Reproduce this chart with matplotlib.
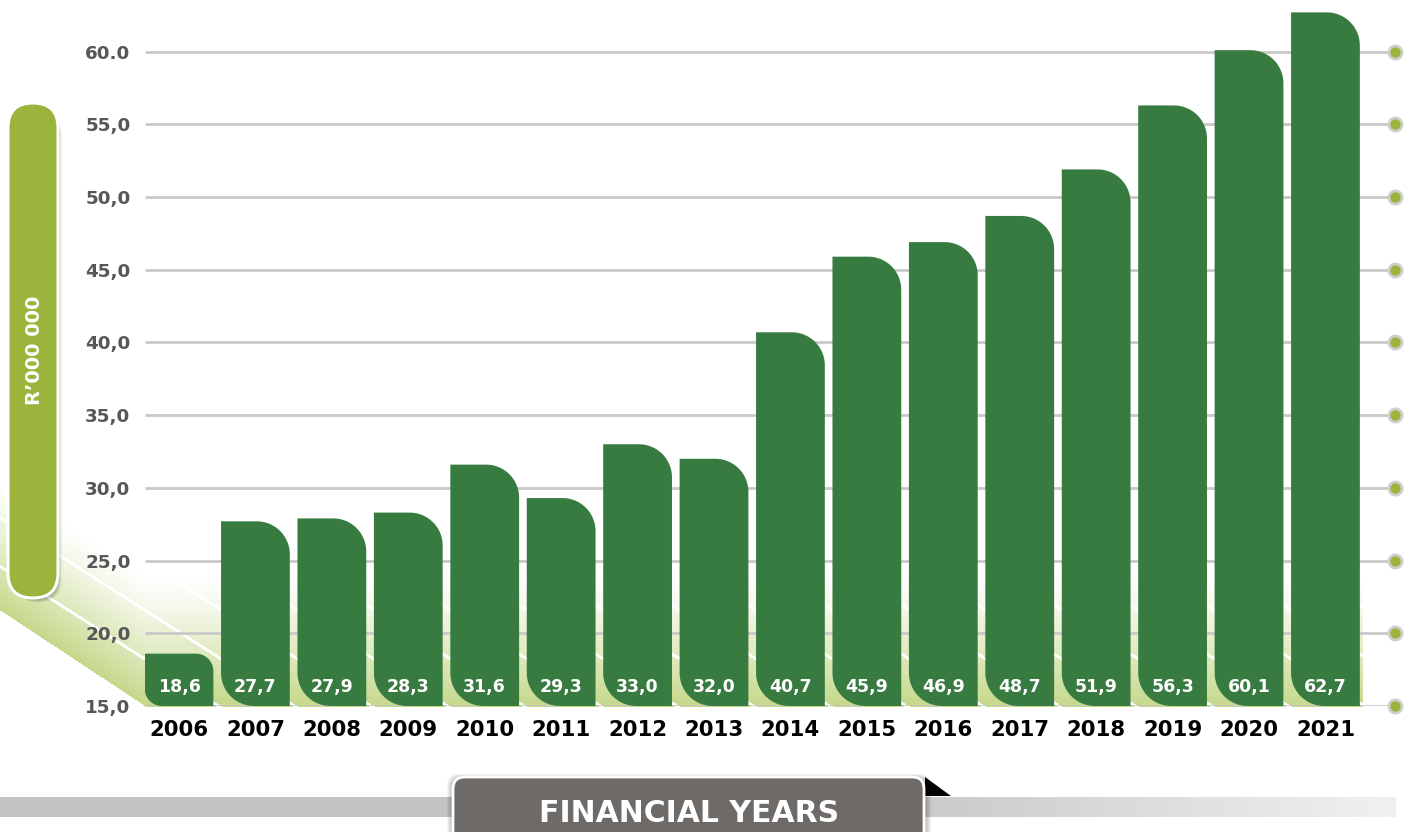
import numpy as np
import matplotlib.pyplot as plt
from matplotlib.patches import Polygon, FancyBboxPatch

years = ["2006", "2007", "2008", "2009", "2010", "2011", "2012", "2013",
         "2014", "2015", "2016", "2017", "2018", "2019", "2020", "2021"]
values = [18.6, 27.7, 27.9, 28.3, 31.6, 29.3, 33.0, 32.0,
          40.7, 45.9, 46.9, 48.7, 51.9, 56.3, 60.1, 62.7]
value_labels = ["18,6", "27,7", "27,9", "28,3", "31,6", "29,3", "33,0", "32,0",
                "40,7", "45,9", "46,9", "48,7", "51,9", "56,3", "60,1", "62,7"]
y_ticks = [15, 20, 25, 30, 35, 40, 45, 50, 55, 60]
y_tick_labels = ["15,0", "20,0", "25,0", "30,0", "35,0", "40,0", "45,0", "50,0", "55,0", "60.0"]
y_title = "R\u2019000 000"
x_title = "FINANCIAL YEARS"

FONT = ["DejaVu Sans"]
BAR_GREEN = "#387b41"
OLIVE = "#9bb43c"
GRID = "#c9c9c9"

W, H = 1414, 832
fig = plt.figure(figsize=(W / 100, H / 100), dpi=100)
plt.rcParams["font.family"] = FONT

# background layer in pixel units (y pointing down)
bg = fig.add_axes([0, 0, 1, 1], zorder=0)
bg.set_xlim(0, W)
bg.set_ylim(H, 0)
bg.axis("off")

# plot area
left_px, right_px, base_px, top_px = 145, 1395, 706, 8
pitch = 76.43
x0 = (left_px - 179) / pitch
x1 = (right_px - 179) / pitch
ylo, yhi = 15, 63
ax = fig.add_axes([left_px / W, (H - base_px) / H,
                   (right_px - left_px) / W, (base_px - top_px) / H], zorder=2)
ax.set_xlim(x0, x1)
ax.set_ylim(ylo, yhi)
ax.patch.set_alpha(0)
for s in ax.spines.values():
    s.set_visible(False)

sx = 1 / pitch                              # data units per pixel (x)
sy = (yhi - ylo) / (base_px - top_px)       # data units per pixel (y)
bar_w = 0.9

# light green floor with white diagonal stripes
Xg, Yg = np.meshgrid(np.arange(W), np.arange(H))
edge = np.where(Xg < left_px, 610 + 0.66 * Xg, base_px)
d = edge - Yg
alpha = np.clip(1 - d / 130.0, 0, 1) ** 1.2
alpha[(d < 0) | (Xg > 1362)] = 0
first_gap = left_px - 3
u = Xg - (Yg - 657) / 0.64 - first_gap
ph = np.mod(u, pitch)
stripe = np.minimum(ph, pitch - ph) < 2.6
floor = np.zeros((H, W, 4))
floor[..., 0] = 0.77
floor[..., 1] = 0.85
floor[..., 2] = 0.54
floor[..., 3] = alpha
floor[stripe, :3] = 1.0
bg.imshow(floor, extent=(0, W, H, 0), interpolation="bilinear", zorder=1)

# gridlines and end dots
ax.hlines(y_ticks, x0, x1, color=GRID, lw=2, zorder=1)
ax.scatter([x1] * len(y_ticks), y_ticks, s=90, color=OLIVE, edgecolor="#cfcfcf",
           linewidth=2, zorder=5, clip_on=False)


def bar_shape(xc, top):
    l, r_ = xc - bar_w / 2, xc + bar_w / 2
    h_px = (top - ylo) / sy
    rad = min(33, h_px / 3)
    pts = []
    t = np.linspace(np.pi, 1.5 * np.pi, 20)
    cx, cy = l + rad * sx, ylo + rad * sy
    pts += list(zip(cx + rad * np.cos(t) * sx, cy + rad * np.sin(t) * sy))
    pts.append((r_, ylo))
    t = np.linspace(0, 0.5 * np.pi, 20)
    cx, cy = r_ - rad * sx, top - rad * sy
    pts += list(zip(cx + rad * np.cos(t) * sx, cy + rad * np.sin(t) * sy))
    pts.append((l, top))
    return pts


for i, v in enumerate(values):
    ax.add_patch(Polygon(bar_shape(i, v), closed=True, facecolor=BAR_GREEN,
                         edgecolor="none", zorder=3))
    ax.text(i, ylo + 19 * sy, value_labels[i], ha="center", va="center",
            color="white", fontsize=12.5, fontweight="bold", zorder=4)

ax.set_yticks(y_ticks)
ax.set_yticklabels(y_tick_labels, fontsize=13.2, fontweight="bold", color="#575757")
ax.set_xticks(range(len(years)))
ax.set_xticklabels(years, fontsize=15.3, fontweight="bold", color="black")
ax.tick_params(axis="y", length=0, pad=10.5)
ax.tick_params(axis="x", length=0, pad=10)

# y title pill with soft shadow
for k in range(7):
    bg.add_patch(FancyBboxPatch((10 + 2 + k * 0.6, 105 + 3 + k * 0.6), 46, 491,
                                boxstyle="round,pad=0,rounding_size=24",
                                facecolor="black", edgecolor="none",
                                alpha=0.05, zorder=2))
bg.add_patch(FancyBboxPatch((8, 103), 50, 495, boxstyle="round,pad=0,rounding_size=25",
                            facecolor=OLIVE, edgecolor="white", lw=2.2, zorder=3))
bg.text(34, 350, y_title, rotation=90, ha="center", va="center", color="white",
        fontsize=14, fontweight="bold", zorder=4)

# bottom band with fading gray
band = np.linspace(0, 1, 1396)
band = np.clip((band - 0.6) / 0.4, 0, 1)
shade = 0.765 + (0.945 - 0.765) * band
band_img = np.repeat(shade[None, :, None], 3, axis=2)
band_img = np.repeat(band_img, 2, axis=0)
bg.imshow(band_img, extent=(0, 1396, 817, 797), interpolation="bilinear", zorder=2)

# x title tab
for k in range(6):
    bg.add_patch(FancyBboxPatch((451 - k * 0.8, 777 - k * 0.6), 476 + k * 1.6, 80,
                                boxstyle="round,pad=0,rounding_size=12",
                                facecolor="black", edgecolor="none",
                                alpha=0.04, zorder=3))
bg.add_patch(Polygon([(925, 777), (951, 796), (925, 796)], closed=True,
                     facecolor="black", edgecolor="none", zorder=3))
bg.add_patch(FancyBboxPatch((453, 777), 471, 80, boxstyle="round,pad=0,rounding_size=12",
                            facecolor="#6e6a67", edgecolor="white", lw=2, zorder=4))
bg.text(689, 814, x_title, ha="center", va="center", color="white",
        fontsize=21.5, fontweight="bold", zorder=5)

fig.savefig("out.png", dpi=100)
